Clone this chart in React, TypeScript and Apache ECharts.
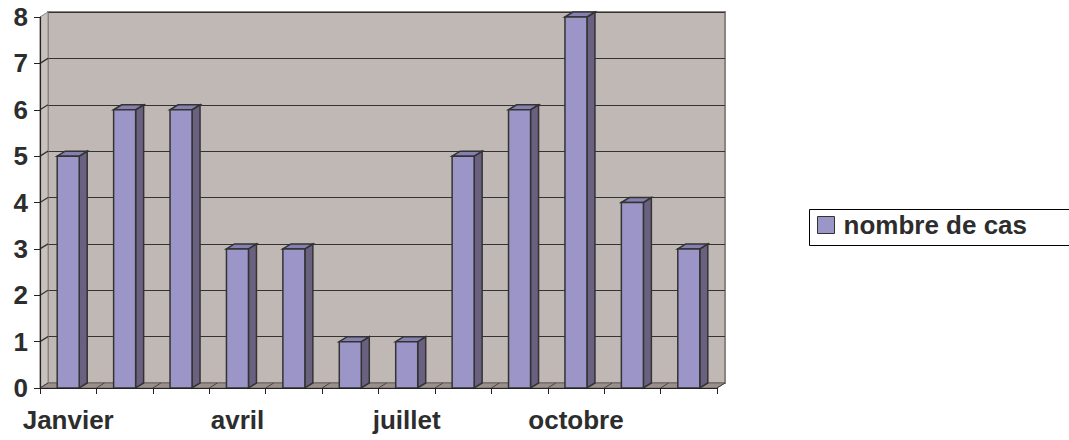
import React, { useEffect, useRef } from "react";
import * as echarts from "echarts";

const months = ["Janvier", "février", "mars", "avril", "mai", "juin", "juillet", "août", "septembre", "octobre", "novembre", "décembre"];
const cases = [5, 6, 6, 3, 3, 1, 1, 5, 6, 8, 4, 3];
const seriesName = "nombre de cas";
const yMin = 0;
const yMax = 8;
const yStep = 1;

const FONT = "'Liberation Sans', Arial, Helvetica, sans-serif";
const TEXT = "#2d2d2d";
const DX = 8;
const DY = -5;

export default function App() {
  const ref = useRef<HTMLDivElement>(null);
  useEffect(() => {
    if (!ref.current) return;
    const chart = echarts.init(ref.current, undefined, { renderer: "svg" });
    const option: any = {
      animation: false,
      backgroundColor: "#ffffff",
      grid: [
        { left: 40, right: 352, top: 17, bottom: 52, containLabel: false },
        {
          left: 40 + DX, right: 352 - DX, top: 17 + DY, bottom: 52 - DY, containLabel: false,
          show: true, backgroundColor: "#c0b8b4", borderColor: "#8c8480", borderWidth: 2, z: 0,
        },
      ],
      xAxis: [
        {
          gridIndex: 0, type: "category", data: months, boundaryGap: true,
          axisLine: { show: true, lineStyle: { color: "#222", width: 1.2 } },
          axisTick: { show: true, interval: 0, length: 6, lineStyle: { color: "#222" } },
          axisLabel: { interval: 2, margin: 19, color: TEXT, fontSize: 26, fontWeight: "bold", fontFamily: FONT },
          splitLine: { show: false }, z: 5,
        },
        { gridIndex: 1, type: "category", data: months, show: false, splitLine: { show: false } },
      ],
      yAxis: [
        {
          gridIndex: 0, type: "value", min: yMin, max: yMax, interval: yStep,
          axisLine: { show: true, lineStyle: { color: "#222", width: 1.2 } },
          axisTick: { show: true, length: 6, lineStyle: { color: "#222" } },
          axisLabel: { margin: 12, color: TEXT, fontSize: 26, fontWeight: "bold", fontFamily: FONT },
          splitLine: { show: false }, z: 5,
        },
        {
          gridIndex: 1, type: "value", min: yMin, max: yMax, interval: yStep,
          axisLine: { show: false }, axisTick: { show: false }, axisLabel: { show: false },
          splitLine: { show: true, lineStyle: { color: "#333", width: 1.2 } },
        },
      ],
      legend: {
        data: [seriesName], left: 817, top: 212, icon: "rect", itemWidth: 17, itemHeight: 17, itemGap: 8,
        padding: 0,
        itemStyle: { color: "#9c96c8", borderColor: "#333", borderWidth: 1 },
        textStyle: { color: TEXT, fontSize: 26, fontWeight: "bold", fontFamily: FONT, padding: [0, 0, 0, 4] },
      },
      graphic: [
        { type: "rect", left: 807, top: 207, shape: { width: 260, height: 36 }, style: { fill: "none", stroke: "#000", lineWidth: 1 }, z: 100 },
      ],
      series: [
        {
          type: "custom", name: "frame", xAxisIndex: 0, yAxisIndex: 0, z: 1, silent: true,
          data: [[0, 0]],
          renderItem: (params: any, api: any) => {
            const band = api.size([1, 0])[0];
            const n = months.length;
            const xl = api.coord([0, 0])[0] - band / 2;
            const xr = api.coord([n - 1, 0])[0] + band / 2;
            const yb = api.coord([0, yMin])[1];
            const yt = api.coord([0, yMax])[1];
            const children: any[] = [];
            children.push({ type: "polygon", shape: { points: [[xl, yt], [xl + DX, yt + DY], [xl + DX, yb + DY], [xl, yb]] }, style: { fill: "#c9c1bd", stroke: "#8c8480", lineWidth: 1 } });
            children.push({ type: "polygon", shape: { points: [[xl, yb], [xl + DX, yb + DY], [xr + DX, yb + DY], [xr, yb]] }, style: { fill: "#9a8f8b", stroke: "#6e6461", lineWidth: 1 } });
            for (let v = yMin + yStep; v < yMax; v += yStep) {
              const y = api.coord([0, v])[1];
              children.push({ type: "line", shape: { x1: xl, y1: y, x2: xl + DX, y2: y + DY }, style: { stroke: "#333", lineWidth: 1.2 } });
            }
            for (let i = 0; i <= n; i++) {
              const x = xl + i * band;
              children.push({ type: "line", shape: { x1: x, y1: yb, x2: x + DX, y2: yb + DY }, style: { stroke: "#444", lineWidth: 1 } });
            }
            return { type: "group", children };
          },
        },
        {
          type: "custom", name: seriesName, xAxisIndex: 0, yAxisIndex: 0, z: 3,
          itemStyle: { color: "#9c96c8" },
          data: cases.map((v, i) => [i, v]),
          encode: { x: 0, y: 1 },
          renderItem: (params: any, api: any) => {
            const idx = api.value(0);
            const v = api.value(1);
            const top = api.coord([idx, v]);
            const base = api.coord([idx, 0]);
            const band = api.size([1, 0])[0];
            const w = band * 0.39;
            const x0 = top[0] - w / 2;
            const x1 = top[0] + w / 2;
            const y0 = top[1];
            const y1 = base[1];
            const stroke = "#333";
            const lw = 1.5;
            return {
              type: "group",
              children: [
                { type: "polygon", shape: { points: [[x1, y0], [x1 + DX, y0 + DY], [x1 + DX, y1 + DY], [x1, y1]] }, style: { fill: "#6a6080", stroke, lineWidth: lw } },
                { type: "polygon", shape: { points: [[x0, y0], [x0 + DX, y0 + DY], [x1 + DX, y0 + DY], [x1, y0]] }, style: { fill: "#8680b0", stroke, lineWidth: lw } },
                { type: "rect", shape: { x: x0, y: y0, width: w, height: y1 - y0 }, style: { fill: "#9c96c8", stroke, lineWidth: lw } },
              ],
            };
          },
        },
      ],
    };
    chart.setOption(option);
    return () => chart.dispose();
  }, []);
  return <div ref={ref} style={{ width: 1069, height: 440, position: "absolute", left: 0, top: 0 }} />;
}
